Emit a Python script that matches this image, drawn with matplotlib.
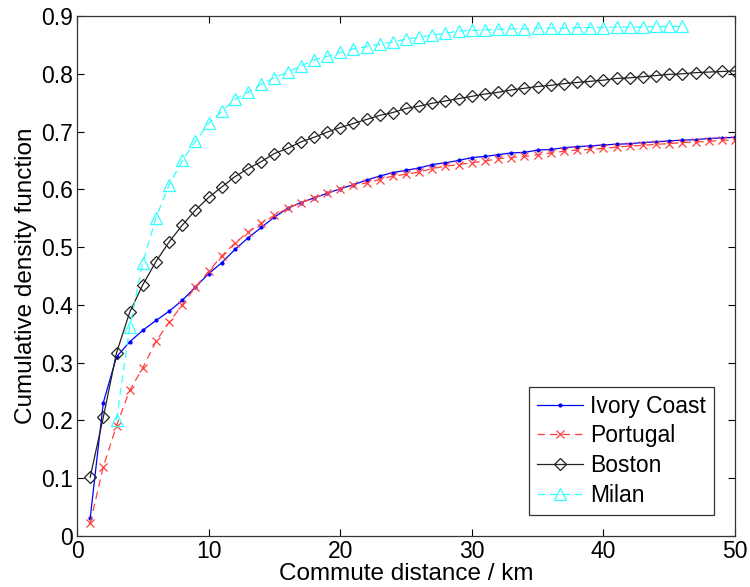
import matplotlib
matplotlib.use('Agg')
import matplotlib.pyplot as plt

plt.rcParams['font.family'] = ['Liberation Sans', 'DejaVu Sans']

# 通勤距離 (km)
dist_ivory = list(range(1, 51))
dist_portugal = list(range(1, 51))
dist_boston = list(range(1, 51))
dist_milan = list(range(3, 47))

cdf_ivory = [0.031, 0.231, 0.310, 0.336, 0.356, 0.373, 0.389, 0.408, 0.431, 0.454,
             0.473, 0.496, 0.516, 0.534, 0.552, 0.567, 0.577, 0.585, 0.593, 0.601,
             0.608, 0.616, 0.623, 0.629, 0.633, 0.637, 0.643, 0.646, 0.650, 0.655,
             0.657, 0.660, 0.663, 0.664, 0.668, 0.669, 0.672, 0.674, 0.675, 0.677,
             0.678, 0.679, 0.681, 0.682, 0.684, 0.685, 0.686, 0.688, 0.689, 0.690]

cdf_portugal = [0.022, 0.120, 0.191, 0.252, 0.291, 0.337, 0.370, 0.400, 0.431, 0.458,
                0.485, 0.507, 0.526, 0.541, 0.555, 0.567, 0.577, 0.585, 0.593, 0.601,
                0.607, 0.611, 0.617, 0.623, 0.626, 0.630, 0.636, 0.640, 0.643, 0.646,
                0.649, 0.653, 0.655, 0.657, 0.660, 0.663, 0.666, 0.668, 0.669, 0.671,
                0.673, 0.675, 0.676, 0.678, 0.679, 0.681, 0.682, 0.683, 0.685, 0.685]

cdf_boston = [0.102, 0.206, 0.317, 0.387, 0.435, 0.475, 0.509, 0.538, 0.564, 0.586,
              0.604, 0.622, 0.636, 0.648, 0.662, 0.671, 0.682, 0.690, 0.699, 0.707,
              0.714, 0.721, 0.728, 0.733, 0.740, 0.744, 0.749, 0.753, 0.757, 0.761,
              0.765, 0.768, 0.772, 0.775, 0.778, 0.780, 0.783, 0.785, 0.787, 0.789,
              0.792, 0.793, 0.795, 0.797, 0.799, 0.800, 0.802, 0.803, 0.804, 0.805]

cdf_milan = [0.201, 0.362, 0.473, 0.551, 0.608, 0.650, 0.683, 0.714, 0.735, 0.756,
             0.768, 0.782, 0.793, 0.803, 0.813, 0.824, 0.830, 0.837, 0.843, 0.847,
             0.851, 0.855, 0.860, 0.863, 0.867, 0.870, 0.874, 0.875, 0.876, 0.877,
             0.878, 0.878, 0.879, 0.879, 0.879, 0.880, 0.880, 0.880, 0.881, 0.881,
             0.881, 0.882, 0.882, 0.882]

fig = plt.figure(figsize=(7.5, 5.87), dpi=100)
ax = fig.add_axes([0.1027, 0.0869, 0.8773, 0.8858])

ax.plot(dist_ivory, cdf_ivory, color='#0000ff', lw=0.9, marker='.', ms=4,
        label='Ivory Coast')
ax.plot(dist_portugal, cdf_portugal, color='#ff4040', lw=0.9, ls=(0, (6, 4)),
        marker='x', ms=6, mew=0.9, label='Portugal')
ax.plot(dist_boston, cdf_boston, color='#222222', lw=0.9, marker='D', ms=6.5,
        mfc='none', mew=0.9, label='Boston')
ax.plot(dist_milan, cdf_milan, color='#33ffff', lw=0.9, ls=(0, (6, 4)),
        marker='^', ms=8, mfc='none', mew=0.9, label='Milan')

ax.set_xlim(0, 50)
ax.set_ylim(0, 0.9)
ax.set_xticks([0, 10, 20, 30, 40, 50])
ax.set_yticks([0, 0.1, 0.2, 0.3, 0.4, 0.5, 0.6, 0.7, 0.8, 0.9])
ax.set_yticklabels(['0', '0.1', '0.2', '0.3', '0.4', '0.5', '0.6', '0.7', '0.8', '0.9'])
ax.tick_params(direction='in', top=True, right=True, labelsize=16.5, length=5,
               width=0.8, pad=3)
for s in ax.spines.values():
    s.set_linewidth(0.9)
    s.set_color('#333333')

ax.set_xlabel('Commute distance / km', fontsize=17.5, labelpad=0)
ax.set_ylabel('Cumulative density function', fontsize=17.5, labelpad=3)

leg = ax.legend(loc='lower right', bbox_to_anchor=(0.968, 0.04), fontsize=16.5,
                numpoints=1, fancybox=False, edgecolor='#333333', framealpha=1,
                handlelength=2.0, handletextpad=0.3, borderpad=0.35,
                labelspacing=0.3, borderaxespad=0)
leg.get_frame().set_linewidth(0.9)

fig.savefig('out.png', dpi=100)
